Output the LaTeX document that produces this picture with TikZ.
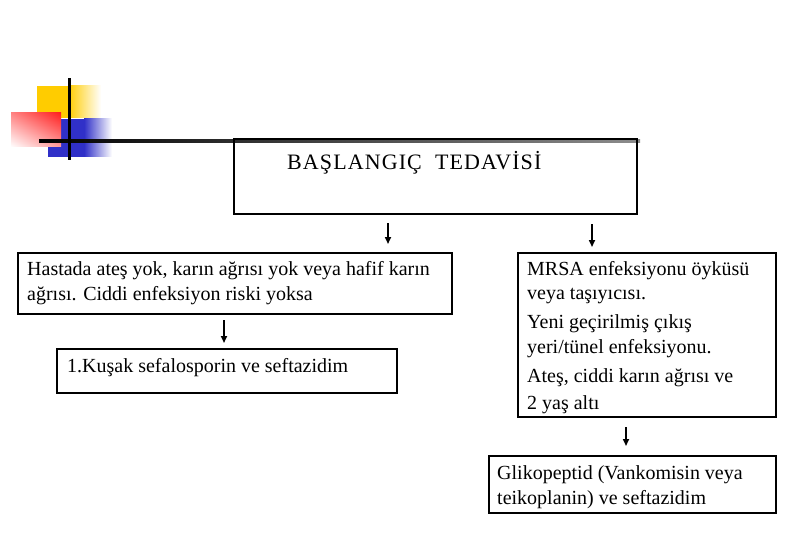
\documentclass[tikz,border=0pt]{standalone}
\usepackage{fontspec}
\setmainfont{Liberation Serif}
\usetikzlibrary{arrows.meta,shadings}
\definecolor{logoyellow}{HTML}{FFCC00}
\definecolor{logoblue}{HTML}{3030C8}
\definecolor{logored}{HTML}{FF2020}
\begin{document}
\begin{tikzpicture}[x=1pt,y=-1pt,
  box/.style={draw, line width=2.6pt, rectangle, inner sep=0pt},
  txt/.style={anchor=base west, inner sep=0pt, font=\fontsize{20}{24.5}\selectfont, align=left},
  arr/.style={-{Triangle[length=7pt,width=6pt]}, line width=1.6pt}]
\useasboundingbox (0,0) rectangle (810,540);
% logo
\fill[logoyellow] (37,86) rectangle (68,118);
\shade[left color=logoyellow, right color=white] (68,86) rectangle (101,118);
\fill[logoblue] (48,119) rectangle (84,157);
\shade[left color=logoblue, right color=white] (84,119) rectangle (112,157);
\shade[upper right=logored, upper left=logored!55!white, lower right=logored!45!white, lower left=white] (11,113) rectangle (61,147);
\shade[left color=black, right color=black!45] (39,139.5) rectangle (640,142.5);
\fill[black] (67.5,78) rectangle (70.5,160);
% boxes
\node[box, minimum width=403pt, minimum height=75pt] (top) at (435.5,176.5) {};
\node[box, minimum width=434pt, minimum height=61pt] (l1) at (235,283.5) {};
\node[box, minimum width=340pt, minimum height=44pt] (l2) at (227,371) {};
\node[box, minimum width=258pt, minimum height=164pt] (r1) at (647,335) {};
\node[box, minimum width=287pt, minimum height=57pt] (r2) at (632.5,484.5) {};
% texts (base anchor = baseline of last line)
\node[txt, font=\fontsize{22}{24.5}\selectfont\addfontfeature{LetterSpace=5}] (ttop) at (287,169) {BAŞLANGIÇ\ \ TEDAVİSİ};
\node[txt] (tl1) at (27,300) {Hastada ateş yok, karın ağrısı yok veya hafif karın\\ağrısı. Ciddi enfeksiyon riski yoksa};
\node[txt] (tl2) at (67,372) {1.Kuşak sefalosporin ve seftazidim};
\node[txt] (tr1) at (527,409) {MRSA enfeksiyonu öyküsü\\veya taşıyıcısı.\\[4.5pt]Yeni geçirilmiş çıkış\\yeri/tünel enfeksiyonu.\\[4.5pt]Ateş, ciddi karın ağrısı ve\\[2.5pt]2 yaş altı};
\node[txt] (tr2) at (497,504) {Glikopeptid (Vankomisin veya\\teikoplanin) ve seftazidim};
% arrows
\coordinate (a1s) at (388,223); \coordinate (a1e) at (388,244);
\coordinate (a2s) at (592,224); \coordinate (a2e) at (592,247);
\coordinate (a3s) at (224,320); \coordinate (a3e) at (224,343);
\coordinate (a4s) at (626,427); \coordinate (a4e) at (626,446);
\draw[arr] (a1s) -- (a1e);
\draw[arr] (a2s) -- (a2e);
\draw[arr] (a3s) -- (a3e);
\draw[arr] (a4s) -- (a4e);
\end{tikzpicture}
\end{document}
